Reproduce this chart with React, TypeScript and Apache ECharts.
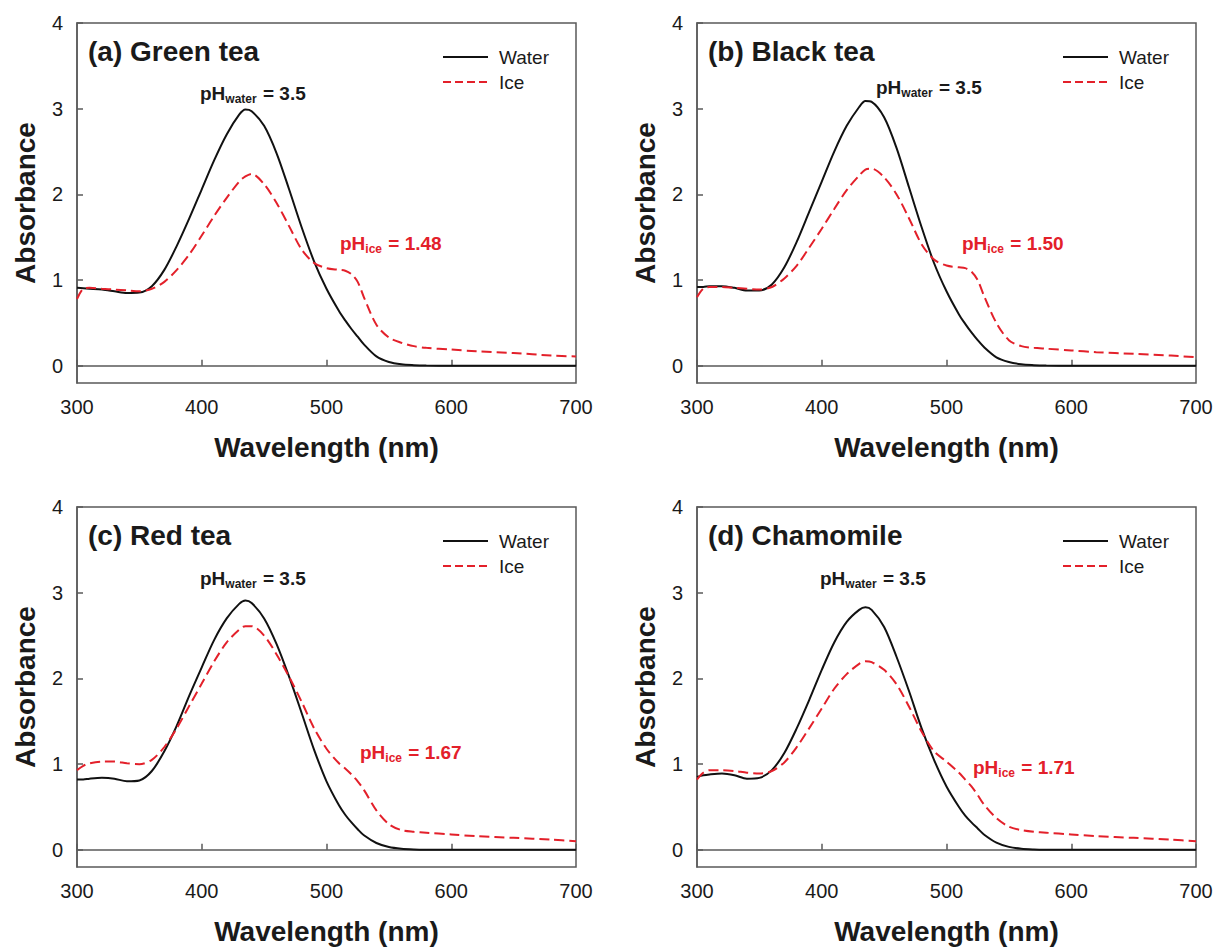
import React, { useEffect, useRef } from "react";
import * as echarts from "echarts";

// Wavelength grid (nm) shared by every spectrum
const WAVELENGTH = [300, 305, 310, 320, 330, 340, 350, 360, 370, 380, 390, 400, 410, 420, 430, 435, 440, 450, 460, 470, 480, 490, 500, 510, 515, 520, 525, 530, 540, 550, 560, 570, 580, 600, 620, 650, 680, 700];

// (a) Green tea
const GREEN_WATER = [0.91, 0.905, 0.9, 0.89, 0.87, 0.85, 0.855, 0.93, 1.12, 1.4, 1.72, 2.06, 2.4, 2.7, 2.93, 2.99, 2.97, 2.8, 2.48, 2.06, 1.62, 1.22, 0.9, 0.64, 0.53, 0.43, 0.34, 0.25, 0.11, 0.045, 0.018, 0.008, 0.003, 0, 0, 0, 0, 0];
const GREEN_ICE = [0.78, 0.9, 0.91, 0.9, 0.89, 0.88, 0.87, 0.9, 0.98, 1.12, 1.3, 1.52, 1.75, 1.96, 2.15, 2.21, 2.24, 2.12, 1.9, 1.63, 1.36, 1.2, 1.14, 1.12, 1.11, 1.07, 0.98, 0.8, 0.48, 0.33, 0.27, 0.23, 0.21, 0.19, 0.17, 0.15, 0.12, 0.11];

// (b) Black tea
const BLACK_WATER = [0.92, 0.92, 0.93, 0.93, 0.91, 0.88, 0.88, 0.95, 1.15, 1.45, 1.8, 2.15, 2.5, 2.8, 3.02, 3.09, 3.08, 2.9, 2.54, 2.08, 1.62, 1.2, 0.87, 0.6, 0.49, 0.39, 0.3, 0.22, 0.1, 0.045, 0.018, 0.008, 0.003, 0, 0, 0, 0, 0];
const BLACK_ICE = [0.8, 0.9, 0.92, 0.92, 0.91, 0.9, 0.89, 0.92, 1.02, 1.17, 1.38, 1.6, 1.83, 2.05, 2.22, 2.29, 2.3, 2.2, 2.0, 1.72, 1.42, 1.24, 1.17, 1.15, 1.14, 1.1, 1.0, 0.82, 0.5, 0.3, 0.23, 0.21, 0.2, 0.18, 0.16, 0.14, 0.12, 0.1];

// (c) Red tea
const RED_WATER = [0.82, 0.82, 0.83, 0.84, 0.83, 0.8, 0.81, 0.92, 1.15, 1.45, 1.8, 2.13, 2.45, 2.7, 2.87, 2.91, 2.88, 2.7, 2.4, 2.02, 1.6, 1.17, 0.8, 0.52, 0.41, 0.32, 0.24, 0.17, 0.08, 0.033, 0.013, 0.005, 0.002, 0, 0, 0, 0, 0];
const RED_ICE = [0.93, 0.98, 1.01, 1.03, 1.03, 1.01, 1.0, 1.05, 1.2, 1.42, 1.68, 1.94, 2.2, 2.42, 2.57, 2.61, 2.61, 2.5, 2.28, 2.02, 1.73, 1.42, 1.18, 1.01, 0.95, 0.88, 0.8, 0.7, 0.46, 0.3, 0.23, 0.21, 0.2, 0.18, 0.16, 0.14, 0.12, 0.1];

// (d) Chamomile
const CHAMOMILE_WATER = [0.85, 0.87, 0.88, 0.89, 0.87, 0.83, 0.84, 0.93, 1.13, 1.42, 1.75, 2.1, 2.42, 2.66, 2.8, 2.83, 2.8, 2.6, 2.25, 1.85, 1.42, 1.05, 0.74, 0.5, 0.4, 0.32, 0.25, 0.18, 0.085, 0.035, 0.013, 0.005, 0.002, 0, 0, 0, 0, 0];
const CHAMOMILE_ICE = [0.82, 0.9, 0.93, 0.93, 0.92, 0.9, 0.89, 0.92, 1.02, 1.2, 1.42, 1.65, 1.88, 2.05, 2.17, 2.2, 2.19, 2.1, 1.93, 1.67, 1.38, 1.15, 1.03, 0.9, 0.82, 0.74, 0.64, 0.53, 0.37, 0.27, 0.23, 0.21, 0.2, 0.18, 0.16, 0.14, 0.12, 0.1];

const PANEL_TITLES = ["(a) Green tea", "(b) Black tea", "(c) Red tea", "(d) Chamomile"];
const WATER_SERIES = [GREEN_WATER, BLACK_WATER, RED_WATER, CHAMOMILE_WATER];
const ICE_SERIES = [GREEN_ICE, BLACK_ICE, RED_ICE, CHAMOMILE_ICE];
const PH_WATER = ["3.5", "3.5", "3.5", "3.5"];
const PH_ICE = ["1.48", "1.50", "1.67", "1.71"];
const X_TICKS = { min: 300, max: 700, interval: 100 };
const Y_TICKS = [0, 1, 2, 3, 4];

// Layout
const FONT = "'Liberation Sans', Arial, Helvetica, sans-serif";
const GRID_POS = [
  { left: 77, top: 23 },
  { left: 697, top: 23 },
  { left: 77, top: 507 },
  { left: 697, top: 507 },
];
const GRID_W = 499;
const GRID_H = 360;
const WATER_LABEL_POS = [
  { x: 200, y: 93 },
  { x: 876, y: 87 },
  { x: 200, y: 578 },
  { x: 820, y: 578 },
];
const ICE_LABEL_POS = [
  { x: 340, y: 243 },
  { x: 962, y: 243 },
  { x: 360, y: 752 },
  { x: 973, y: 767 },
];
const AXIS_COLOR = "#5a5a5a";
const TEXT_COLOR = "#1a1a1a";
const WATER_COLOR = "#111111";
const ICE_COLOR = "#e3202a";
const ICE_DASH = [10, 5];

// Bold sans advance widths (em) for measuring the pH labels
const GLYPH_EM: Record<string, number> = { w: 0.778, a: 0.556, t: 0.333, e: 0.556, r: 0.389, i: 0.278, c: 0.556 };
const textWidth = (s: string, size: number) =>
  s.split("").reduce((acc, ch) => acc + (GLYPH_EM[ch] ?? 0.556), 0) * size;

// "pH" with a subscript, followed by " = value"; laid out as three text pieces
function phLabel(sub: string, value: string, color: string, x: number, y: number) {
  const main = 19;
  const small = 12;
  const subOffset = (0.611 + 0.722) * main; // width of bold "pH"
  const subWidth = textWidth(sub, small);
  const base = { fontWeight: "bold", fontFamily: FONT, fill: color, verticalAlign: "middle", align: "left" };
  return {
    type: "group",
    x,
    y,
    silent: true,
    children: [
      { type: "text", x: 0, y: 0, style: { ...base, text: "pH", fontSize: main } },
      { type: "text", x: subOffset, y: 6, style: { ...base, text: sub, fontSize: small } },
      { type: "text", x: subOffset + subWidth + 1, y: 0, style: { ...base, text: ` = ${value}`, fontSize: main } },
    ],
  };
}

export default function App() {
  const ref = useRef<HTMLDivElement>(null);

  useEffect(() => {
    if (!ref.current) return;
    const chart = echarts.init(ref.current, null, { renderer: "svg" });

    const grid = GRID_POS.map((p) => ({
      left: p.left,
      top: p.top,
      width: GRID_W,
      height: GRID_H,
      show: true,
      borderColor: AXIS_COLOR,
      borderWidth: 1.5,
      backgroundColor: "transparent",
    }));

    const xAxis = GRID_POS.map((_, i) => ({
      type: "value",
      gridIndex: i,
      min: X_TICKS.min,
      max: X_TICKS.max,
      interval: X_TICKS.interval,
      name: "Wavelength (nm)",
      nameLocation: "middle",
      nameGap: 50,
      nameTextStyle: { fontSize: 28, fontWeight: "bold", color: TEXT_COLOR, fontFamily: FONT },
      axisLine: { show: true, lineStyle: { color: AXIS_COLOR, width: 1.5 } },
      axisTick: { show: true, inside: true, length: 6, lineStyle: { color: AXIS_COLOR, width: 1.5 } },
      axisLabel: { fontSize: 20, color: TEXT_COLOR, margin: 14, fontFamily: FONT },
      splitLine: { show: false },
    }));

    const yAxis = GRID_POS.map((_, i) => ({
      type: "value",
      gridIndex: i,
      min: -0.2,
      max: 4,
      name: "Absorbance",
      nameLocation: "middle",
      nameGap: 38,
      nameTextStyle: { fontSize: 28, fontWeight: "bold", color: TEXT_COLOR, fontFamily: FONT },
      axisLine: { show: true, lineStyle: { color: AXIS_COLOR, width: 1.5 } },
      axisTick: { show: true, inside: true, length: 6, customValues: Y_TICKS, lineStyle: { color: AXIS_COLOR, width: 1.5 } },
      axisLabel: { fontSize: 20, color: TEXT_COLOR, margin: 14, fontFamily: FONT, customValues: Y_TICKS },
      splitLine: { show: false },
    }));

    const series: any[] = [];
    GRID_POS.forEach((_, i) => {
      series.push({
        name: "Water",
        type: "line",
        xAxisIndex: i,
        yAxisIndex: i,
        data: WAVELENGTH.map((w, k) => [w, WATER_SERIES[i][k]]),
        showSymbol: false,
        symbol: "none",
        smooth: 0.3,
        lineStyle: { color: WATER_COLOR, width: 2 },
        itemStyle: { color: WATER_COLOR },
      });
      series.push({
        name: "Ice",
        type: "line",
        xAxisIndex: i,
        yAxisIndex: i,
        data: WAVELENGTH.map((w, k) => [w, ICE_SERIES[i][k]]),
        showSymbol: false,
        symbol: "none",
        smooth: 0.3,
        lineStyle: { color: ICE_COLOR, width: 2, type: ICE_DASH },
        itemStyle: { color: ICE_COLOR },
      });
    });

    const legend = GRID_POS.map((p) => ({
      left: p.left + 365,
      top: p.top + 24,
      padding: 0,
      orient: "vertical",
      data: [{ name: "Water" }, { name: "Ice", lineStyle: { type: [8, 4] } }],
      selectedMode: false,
      itemWidth: 45,
      itemHeight: 14,
      itemGap: 5,
      itemStyle: { opacity: 0 },
      textStyle: { fontSize: 19, color: TEXT_COLOR, fontFamily: FONT, lineHeight: 20, padding: [0, 0, 0, 6] },
    }));

    const graphic: any[] = [];
    GRID_POS.forEach((p, i) => {
      graphic.push({
        type: "text",
        x: p.left + 11,
        y: p.top + 28,
        silent: true,
        style: {
          text: PANEL_TITLES[i],
          fontSize: 28,
          fontWeight: "bold",
          fontFamily: FONT,
          fill: TEXT_COLOR,
          verticalAlign: "middle",
          align: "left",
        },
      });
      graphic.push(phLabel("water", PH_WATER[i], TEXT_COLOR, WATER_LABEL_POS[i].x, WATER_LABEL_POS[i].y));
      graphic.push(phLabel("ice", PH_ICE[i], ICE_COLOR, ICE_LABEL_POS[i].x, ICE_LABEL_POS[i].y));
    });

    chart.setOption({
      animation: false,
      backgroundColor: "#ffffff",
      textStyle: { fontFamily: FONT },
      grid,
      xAxis,
      yAxis,
      legend,
      series,
      graphic,
    });

    return () => chart.dispose();
  }, []);

  return (
    <div
      ref={ref}
      style={{ position: "fixed", left: 0, top: 0, width: 1216, height: 947, background: "#fff" }}
    />
  );
}
